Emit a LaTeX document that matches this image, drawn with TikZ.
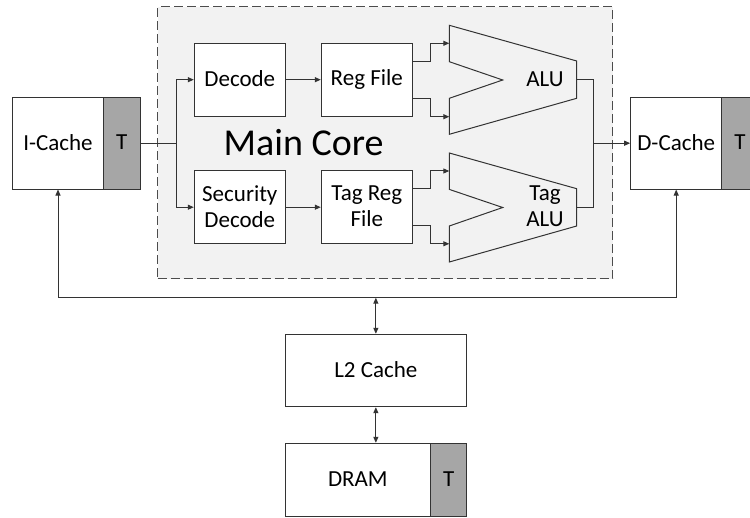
\documentclass[tikz,border=0pt]{standalone}
\usepackage{fontspec}
\setmainfont{Carlito}
\usetikzlibrary{arrows.meta,calc}
\definecolor{linec}{HTML}{333333}
\definecolor{tagc}{HTML}{A6A6A6}
\definecolor{corebg}{HTML}{F2F2F2}
\newcommand\mystrut{\rule[-2pt]{0pt}{17pt}}
\begin{document}
\begin{tikzpicture}[x=1pt,y=-1pt,
  blk/.style={draw=linec,line width=1pt,fill=white,inner sep=0pt,align=center,
    font=\fontsize{23}{26}\selectfont},
  tagblk/.style={blk,fill=tagc},
  conn/.style={draw=linec,line width=1pt},
  arr/.style={conn,-{Triangle[length=6pt,width=5pt]}},
  darr/.style={conn,{Triangle[length=6pt,width=5pt]}-{Triangle[length=6pt,width=5pt]}},
  alushape/.style={draw=linec,line width=1pt},
  lbl/.style={inner sep=0pt,align=center,font=\fontsize{23}{26}\selectfont}]
\clip (0,0) rectangle (750,518);
\fill[white] (0,0) rectangle (750,518);
% main core
\node[draw=black!70,line width=1pt,dash pattern=on 9pt off 4pt,fill=corebg,
  minimum width=455pt,minimum height=272pt,inner sep=0pt] (core) at (385.1,143) {};
\node[inner sep=0pt,font=\fontsize{38}{42}\selectfont,anchor=base] (coretxt) at (303.7,155.5) {Main Core};
% caches
\node[blk,minimum width=90.6pt,minimum height=91.7pt] (icache) at (58,143.2) {\mystrut I-Cache};
\node[tagblk,minimum width=36.7pt,minimum height=91.7pt] (icT) at (121.65,143.2) {\mystrut T};
\node[blk,minimum width=91pt,minimum height=91.7pt] (dcache) at (676.2,143.2) {\mystrut D-Cache};
\node[tagblk,minimum width=36.7pt,minimum height=91.7pt] (dcT) at (740.05,143.2) {\mystrut T};
% pipeline blocks
\node[blk,minimum width=91pt,minimum height=72.7pt] (decode) at (239.8,79.7) {\mystrut Decode};
\node[blk,minimum width=91pt,minimum height=72.7pt] (regfile) at (366.8,79.7) {\mystrut Reg File};
\node[blk,minimum width=91pt,minimum height=72.7pt] (secdec) at (239.8,207.2) {\mystrut Security\\\mystrut Decode};
\node[blk,minimum width=91pt,minimum height=72.7pt] (tagreg) at (366.8,207.2) {\mystrut Tag Reg\\\mystrut File};
% ALUs
\draw[alushape] (449.3,25.3) -- (576.7,61) -- (576.7,98.3) -- (449.3,134.3) -- (449.3,98.3)
  -- (502.7,80) -- (449.3,61.7) -- cycle;
\draw[alushape] (449.3,153) -- (576.7,188.7) -- (576.7,226) -- (449.3,262) -- (449.3,226)
  -- (502.7,207.5) -- (449.3,189.4) -- cycle;
\node[lbl] (alu) at (545,80) {\mystrut ALU};
\node[lbl] (talu) at (545,207.5) {\mystrut Tag\\\mystrut ALU};
\coordinate (aluA) at (449.3,43.3);
\coordinate (aluB) at (449.3,116.7);
\coordinate (taluA) at (449.3,171);
\coordinate (taluB) at (449.3,243.8);
\coordinate (aluout) at (576.7,80);
\coordinate (taluout) at (576.7,207.3);
% lower memory
\node[blk,minimum width=181.7pt,minimum height=72.4pt] (l2) at (375.85,370.5) {\mystrut L2 Cache};
\node[blk,minimum width=145.7pt,minimum height=72.7pt] (dram) at (357.85,479.65) {\mystrut DRAM};
\node[tagblk,minimum width=36pt,minimum height=72.7pt] (dramT) at (448.7,479.65) {\mystrut T};
% connectors in core
\coordinate (split) at (176,143.2);
\draw[conn] (icT.east) -- (split);
\draw[arr] (split) |- (decode.west);
\draw[arr] (split) |- (secdec.west);
\draw[arr] (decode.east) -- (regfile.west);
\draw[arr] (secdec.east) -- (tagreg.west);
\draw[arr] ($(regfile.east)+(0,-18)$) -| (430.7,61) |- (aluA);
\draw[arr] ($(regfile.east)+(0,18.6)$) -| (430.7,99) |- (aluB);
\draw[arr] ($(tagreg.east)+(0,-18.2)$) -| (430.7,189) |- (taluA);
\draw[arr] ($(tagreg.east)+(0,18.5)$) -| (430.7,226) |- (taluB);
\coordinate (merge) at (593.3,143.2);
\draw[conn] (aluout) -| (merge);
\draw[conn] (taluout) -| (merge);
\draw[arr] (merge) -- (dcache.west);
% memory bus
\coordinate (bus) at (375.85,297.7);
\draw[darr] (icache.south) |- (bus) -| (dcache.south);
\draw[darr] (bus) -- (l2.north);
\draw[darr] (l2.south) -- (l2.south |- dram.north);
\end{tikzpicture}
\end{document}
